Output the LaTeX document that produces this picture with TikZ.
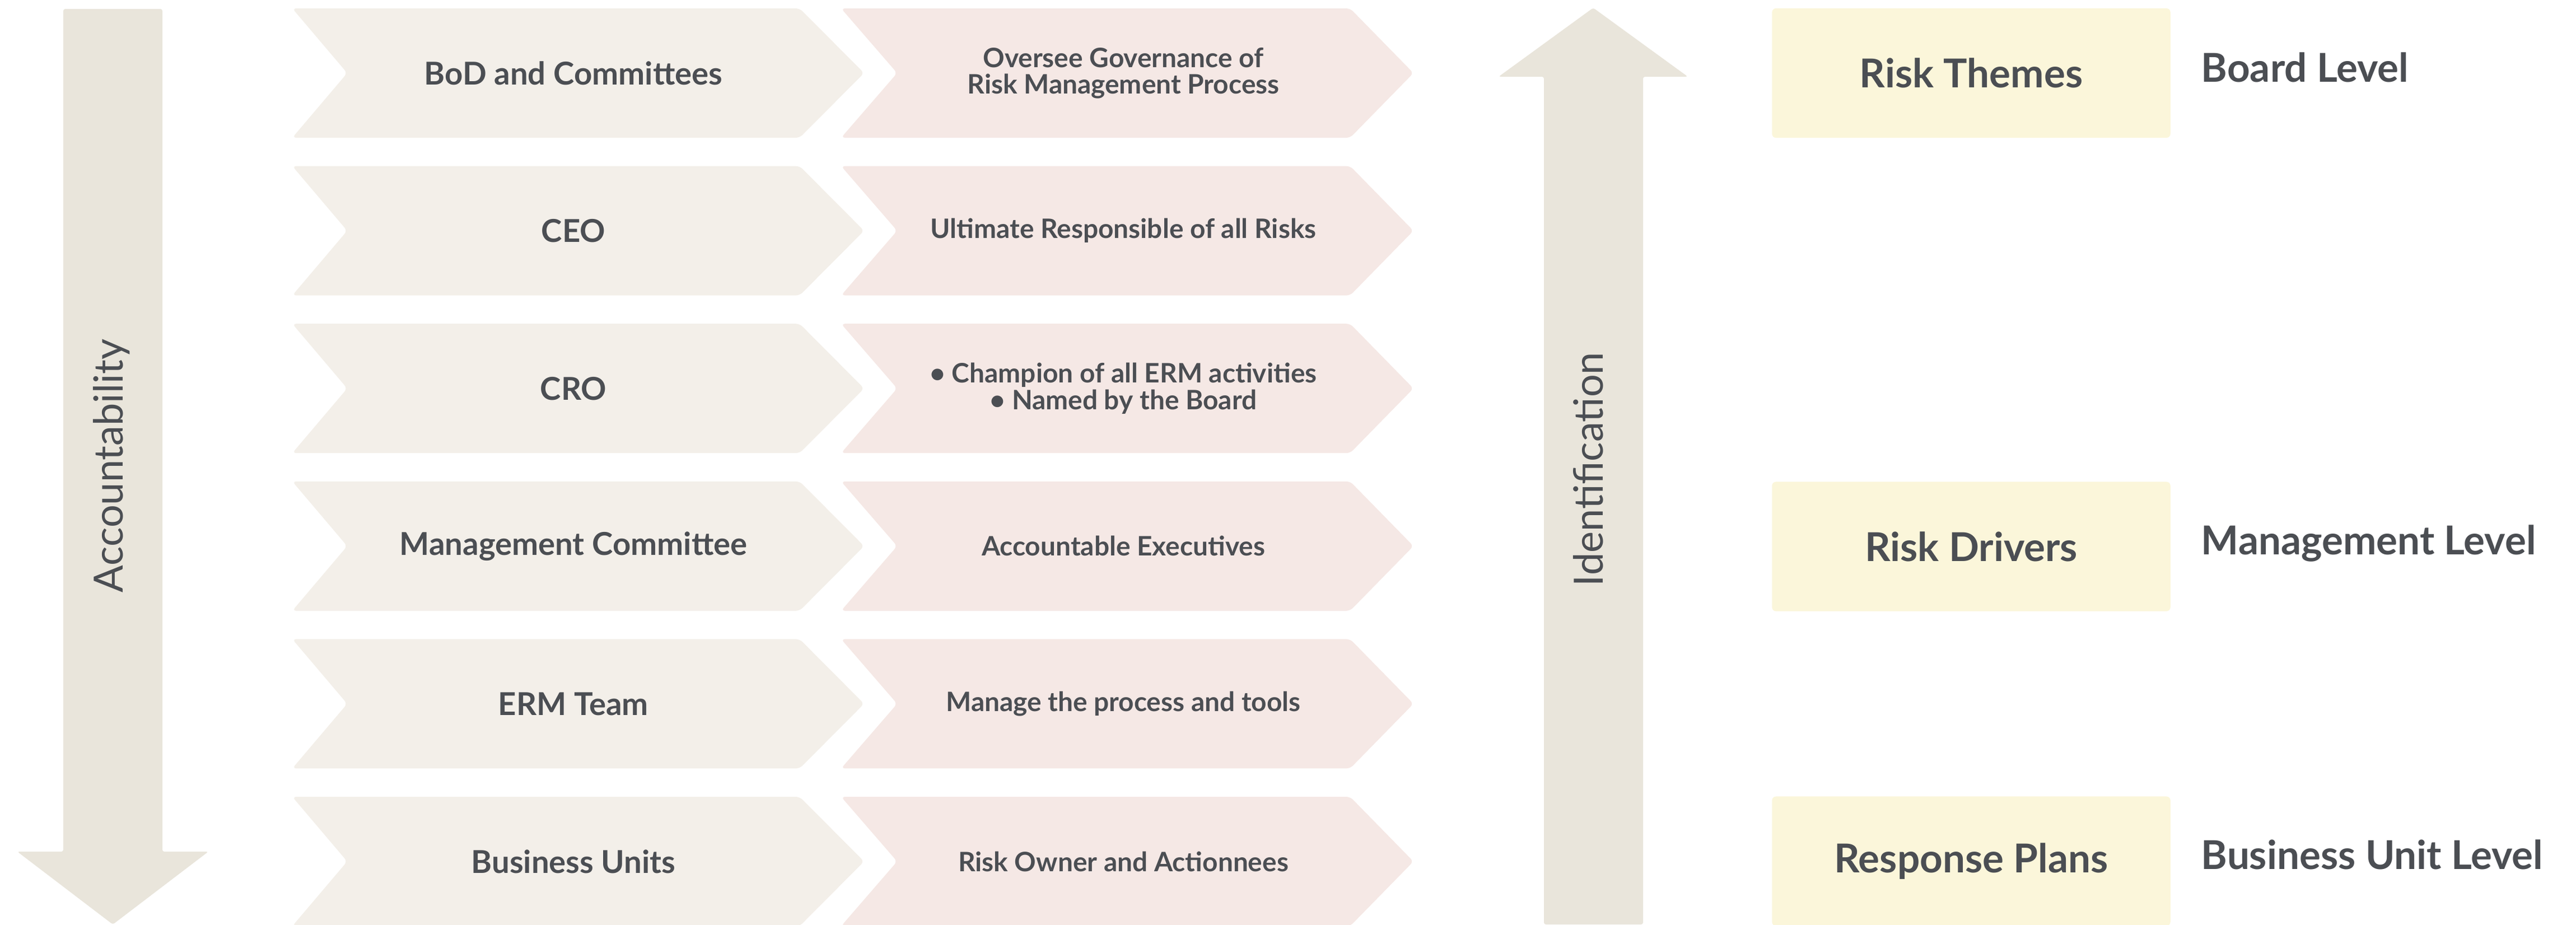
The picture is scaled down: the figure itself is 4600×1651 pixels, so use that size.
\documentclass[tikz,border=0pt]{standalone}
\usepackage{fontspec}
\setmainfont{Lato}
\definecolor{ink}{HTML}{4B4E53}
\definecolor{whofill}{HTML}{F3EFE9}
\definecolor{taskfill}{HTML}{F5E8E5}
\definecolor{flowfill}{HTML}{E9E5DB}
\definecolor{notefill}{HTML}{FBF6DA}
\begin{document}
\begin{tikzpicture}[x=0.01cm,y=-0.01cm,
    who/.style={text=ink,font=\bfseries\fontsize{16}{18}\selectfont,align=center},
    task/.style={text=ink,font=\bfseries\fontsize{13.6}{13.4}\selectfont,align=center},
    flow/.style={text=ink,font=\fontsize{20.5}{22}\selectfont,rotate=90,anchor=base},
    note/.style={fill=notefill,rounded corners=2pt,minimum width=7.11cm,minimum height=2.31cm,
                 inner sep=0pt,text=ink,font=\bfseries\fontsize{20.2}{22}\selectfont},
    level/.style={text=ink,font=\bfseries\fontsize{20.2}{22}\selectfont,anchor=base west,inner sep=0pt}]
\useasboundingbox (0,0) rectangle (4600,1651);
% accountability arrow
\fill[flowfill,rounded corners=1pt] (113,16) -- (290,16) -- (290,1521) -- (372,1521)
    -- (201.5,1651) -- (31,1521) -- (113,1521) -- cycle;
\node[flow] (acc) at (219,832) {Accountability};
% identification arrow
\fill[flowfill,rounded corners=1pt] (2845,14) -- (3014,137) -- (2934,137) -- (2934,1651)
    -- (2757,1651) -- (2757,137) -- (2676,137) -- cycle;
\node[flow] (ident) at (2862,838) {Identification};
% chevron rows
\foreach \lab/\job [count=\i from 0] in {
    BoD and Committees/{Oversee Governance of\\Risk Management Process},
    CEO/{Ultimate Responsible of all Risks},
    CRO/{\textbullet\ Champion of all ERM activities\\\textbullet\ Named by the Board},
    Management Committee/{Accountable Executives},
    ERM Team/{Manage the process and tools},
    Business Units/{Risk Owner and Actionnees}}{
  \pgfmathsetmacro{\y}{15+281.6*\i}
  \fill[whofill,rounded corners=2pt] (522,\y) -- (1428,\y) -- (1543,\y+115.5)
      -- (1428,\y+231) -- (522,\y+231) -- (620,\y+115.5) -- cycle;
  \fill[taskfill,rounded corners=2pt] (1502,\y) -- (2411,\y) -- (2524,\y+115.5)
      -- (2411,\y+231) -- (1502,\y+231) -- (1602,\y+115.5) -- cycle;
  \node[who] (who\i) at (1024,\y+115.5) {\lab};
  \node[task] (task\i) at (2006,\y+115.5) {\job};
}
% levels
\node[note] (themes) at (3520,130.5) {Risk Themes};
\node[note] (drivers) at (3520,976) {Risk Drivers};
\node[note] (plans) at (3520,1538) {Response Plans};
\node[level] (board) at (3930,146) {Board Level};
\node[level] (mgmt) at (3930,990) {Management Level};
\node[level] (unit) at (3930,1552) {Business Unit Level};
\end{tikzpicture}
\end{document}
